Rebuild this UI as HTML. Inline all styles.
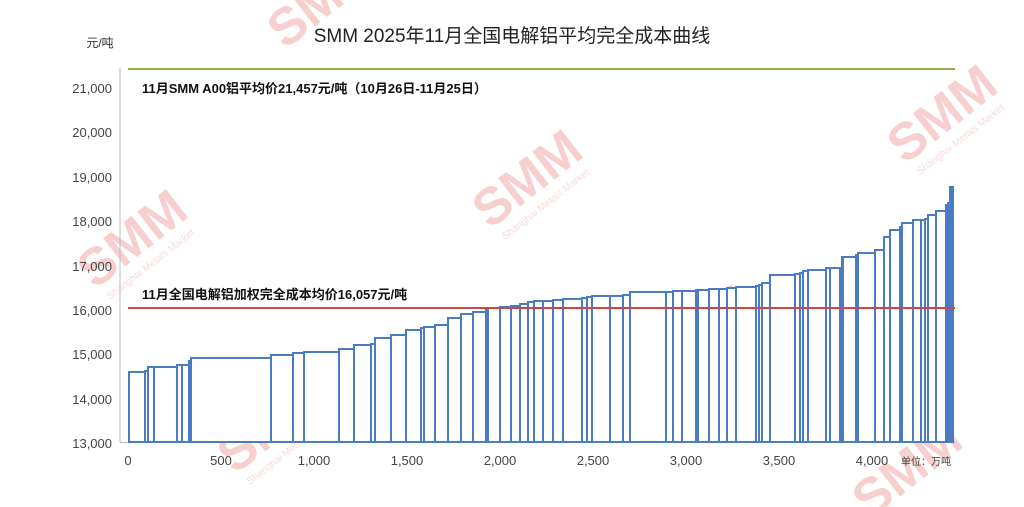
<!DOCTYPE html>
<html><head><meta charset="utf-8"><style>
html,body{margin:0;padding:0;background:#fff;width:1024px;height:507px;overflow:hidden}
svg{display:block;font-family:"Liberation Sans","Noto Sans CJK SC",sans-serif}
</style></head><body>
<svg width="1024" height="507" viewBox="0 0 1024 507">
<g fill="#f7cfcf" font-weight="bold" font-size="52" font-family="Liberation Sans,sans-serif">
<text transform="translate(95,290) rotate(-38)">SMM</text>
<text transform="translate(490,230) rotate(-38)">SMM</text>
<text transform="translate(905,165) rotate(-38)">SMM</text>
<text transform="translate(660,385) rotate(-38)">SMM</text>
<text transform="translate(235,475) rotate(-38)">SMM</text>
<text transform="translate(870,520) rotate(-38)">SMM</text>
<text transform="translate(285,50) rotate(-38)">SMM</text>
</g>
<g fill="#f9dada" font-size="10" font-family="Liberation Sans,sans-serif">
<text transform="translate(110,300) rotate(-38)">Shanghai Metals Market</text>
<text transform="translate(505,240) rotate(-38)">Shanghai Metals Market</text>
<text transform="translate(920,175) rotate(-38)">Shanghai Metals Market</text>
<text transform="translate(675,395) rotate(-38)">Shanghai Metals Market</text>
<text transform="translate(250,485) rotate(-38)">Shanghai Metals Market</text>
</g>
<text x="512" y="42" text-anchor="middle" font-size="19" fill="#222">SMM  2025年11月全国电解铝平均完全成本曲线</text>
<text x="100" y="47" text-anchor="middle" font-size="12" fill="#333">元/吨</text>
<g font-size="13" fill="#444" text-anchor="end">
<text x="112" y="93">21,000</text><text x="112" y="137">20,000</text><text x="112" y="182">19,000</text><text x="112" y="226">18,000</text><text x="112" y="271">17,000</text><text x="112" y="315">16,000</text><text x="112" y="359">15,000</text><text x="112" y="404">14,000</text><text x="112" y="448">13,000</text>
</g>
<g font-size="13" fill="#444" text-anchor="middle">
<text x="128" y="465">0</text><text x="221" y="465">500</text><text x="314" y="465">1,000</text><text x="407" y="465">1,500</text><text x="500" y="465">2,000</text><text x="593" y="465">2,500</text><text x="686" y="465">3,000</text><text x="779" y="465">3,500</text><text x="872" y="465">4,000</text>
</g>
<text x="926" y="465" text-anchor="middle" font-size="10" fill="#444">单位：万吨</text>
<line x1="120" y1="68" x2="120" y2="442" stroke="#bbb" stroke-width="1"/>
<line x1="120" y1="442.5" x2="955" y2="442.5" stroke="#bbb" stroke-width="1"/>
<g fill="#fff" stroke="#4a7cc4" stroke-width="2">
<rect x="129" y="372" width="16" height="70"/><rect x="145" y="371" width="3" height="71"/><rect x="148" y="367" width="6" height="75"/><rect x="154" y="367" width="23" height="75"/><rect x="177" y="365" width="5" height="77"/><rect x="182" y="365" width="7" height="77"/><rect x="189" y="361" width="2" height="81"/><rect x="191" y="358" width="80" height="84"/><rect x="271" y="355" width="22" height="87"/><rect x="293" y="353" width="11" height="89"/><rect x="304" y="352" width="35" height="90"/><rect x="339" y="349" width="15" height="93"/><rect x="354" y="345" width="17" height="97"/><rect x="371" y="344" width="4" height="98"/><rect x="375" y="338" width="16" height="104"/><rect x="391" y="335" width="15" height="107"/><rect x="406" y="330" width="15" height="112"/><rect x="421" y="328" width="3" height="114"/><rect x="424" y="327" width="11" height="115"/><rect x="435" y="325" width="13" height="117"/><rect x="448" y="318" width="13" height="124"/><rect x="461" y="314" width="12" height="128"/><rect x="473" y="312" width="13" height="130"/><rect x="486" y="310" width="2" height="132"/><rect x="488" y="308" width="12" height="134"/>
<rect x="500" y="307" width="11" height="135"/><rect x="511" y="306" width="9" height="136"/><rect x="520" y="304" width="8" height="138"/><rect x="528" y="302" width="6" height="140"/><rect x="534" y="301" width="9" height="141"/><rect x="543" y="301" width="10" height="141"/><rect x="553" y="300" width="10" height="142"/><rect x="563" y="299" width="19" height="143"/><rect x="582" y="298" width="5" height="144"/><rect x="587" y="297" width="5" height="145"/><rect x="592" y="296" width="18" height="146"/><rect x="610" y="296" width="13" height="146"/><rect x="623" y="295" width="7" height="147"/><rect x="630" y="292" width="36" height="150"/><rect x="666" y="292" width="7" height="150"/><rect x="673" y="291" width="9" height="151"/><rect x="682" y="291" width="14" height="151"/><rect x="696" y="290" width="2" height="152"/><rect x="698" y="290" width="11" height="152"/><rect x="709" y="289" width="10" height="153"/><rect x="719" y="289" width="8" height="153"/><rect x="727" y="288" width="9" height="154"/><rect x="736" y="287" width="20" height="155"/><rect x="756" y="286" width="3" height="156"/><rect x="759" y="285" width="3" height="157"/><rect x="762" y="283" width="8" height="159"/>
<rect x="770" y="275" width="25" height="167"/><rect x="795" y="274" width="5" height="168"/><rect x="800" y="273" width="3" height="169"/><rect x="803" y="271" width="5" height="171"/><rect x="808" y="270" width="18" height="172"/><rect x="826" y="268" width="4" height="174"/><rect x="830" y="268" width="10" height="174"/><rect x="840" y="268" width="2" height="174"/><rect x="842" y="257" width="1" height="185"/><rect x="843" y="257" width="13" height="185"/><rect x="856" y="255" width="2" height="187"/><rect x="858" y="253" width="17" height="189"/><rect x="875" y="250" width="9" height="192"/><rect x="884" y="237" width="6" height="205"/><rect x="890" y="230" width="10" height="212"/><rect x="900" y="227" width="2" height="215"/><rect x="902" y="223" width="11" height="219"/><rect x="913" y="220" width="8" height="222"/><rect x="921" y="220" width="4" height="222"/><rect x="925" y="219" width="3" height="223"/><rect x="928" y="215" width="8" height="227"/><rect x="936" y="211" width="10" height="231"/><rect x="946" y="205" width="2" height="237"/><rect x="948" y="203" width="2" height="239"/>
<rect x="950" y="187" width="3" height="255" fill="#4a7cc4"/>
</g>
<line x1="128" y1="69" x2="955" y2="69" stroke="#8fb34a" stroke-width="2"/>
<line x1="128" y1="308" x2="955" y2="308" stroke="#c94a44" stroke-width="2"/>
<text x="142" y="93" font-size="13" font-weight="bold" fill="#111">11月SMM A00铝平均价21,457元/吨（10月26日-11月25日）</text>
<text x="142" y="299" font-size="13" font-weight="bold" fill="#111">11月全国电解铝加权完全成本均价16,057元/吨</text>
</svg>
</body></html>
